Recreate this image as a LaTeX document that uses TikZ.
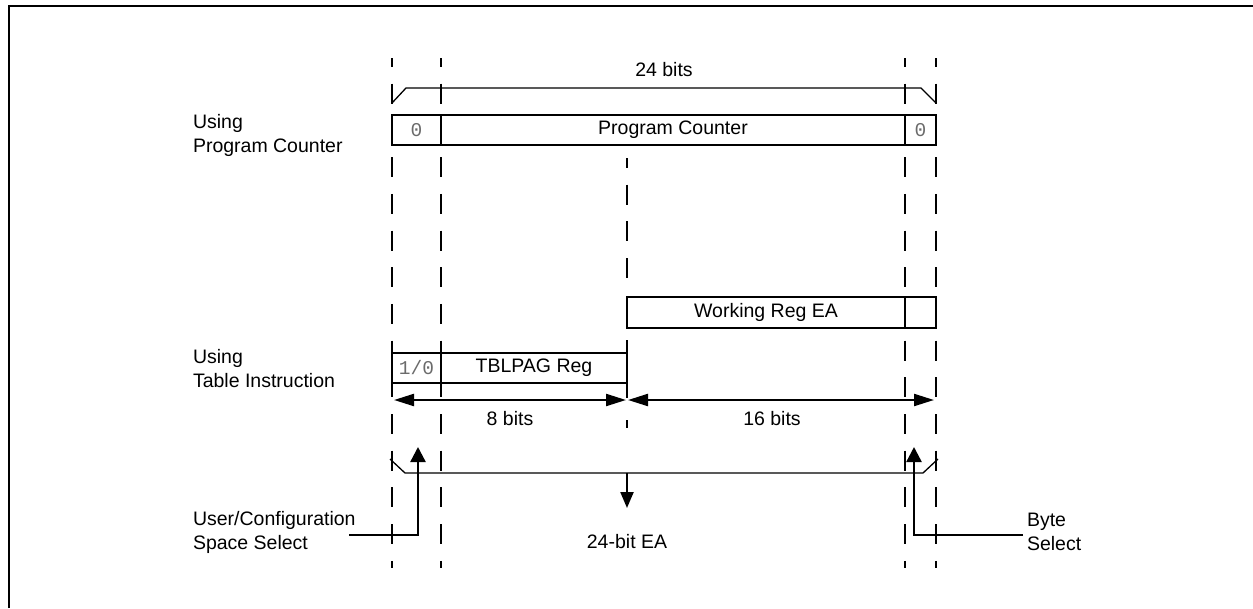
\documentclass[tikz,border=0pt]{standalone}
\usepackage{fontspec}
\setmainfont{Liberation Sans}
\newfontfamily\monof{Liberation Mono}
\usetikzlibrary{arrows.meta}
\definecolor{zerogray}{gray}{0.42}
\begin{document}
\begin{tikzpicture}[x=1pt,y=-1pt,
  lbl/.style={font=\fontsize{19.5}{23.5}\selectfont, inner sep=0pt, outer sep=0pt},
  side/.style={lbl, align=left, anchor=north west},
  regbox/.style={draw, line width=2.4pt, minimum height=30pt, inner sep=0pt, outer sep=0pt, anchor=north west, font=\fontsize{19.5}{23.5}\selectfont},
  bitz/.style={font=\monof\fontsize{18}{20}\selectfont, text=zerogray},
  guide/.style={line width=2.2pt, dash pattern=on 20pt off 16.7pt},
  bracket/.style={line width=1.3pt},
  dimarrow/.style={line width=2.2pt, {Triangle[length=20pt,width=12pt]}-{Triangle[length=20pt,width=12pt]}},
  selarrow/.style={line width=2.4pt, -{Triangle[length=15pt,width=15pt]}},
  downarrow/.style={line width=2.2pt, -{Triangle[length=16pt,width=13pt]}},
  framel/.style={line width=2.6pt}
]
\useasboundingbox (0,0) rectangle (1253,608);

% frame (left and top edges)
\coordinate (fr1) at (9,608);
\coordinate (fr2) at (9,6);
\coordinate (fr3) at (1253,6);
\draw[framel] (fr1) -- (fr2) -- (fr3);

% dashed guide lines
\foreach \n/\x in {ga/392, gb/441, gc/905, gd/936}{
  \coordinate (\n1) at (\x,58);
  \coordinate (\n2) at (\x,568);
  \draw[guide, dash phase=11pt] (\n1) -- (\n2);
}
\coordinate (gm1) at (627,158);
\coordinate (gm2) at (627,287);
\draw[guide, dash phase=10pt] (gm1) -- (gm2);
\coordinate (gm3) at (627,340);
\coordinate (gm4) at (627,398);
\draw[line width=2.2pt] (gm3) -- (gm4);
\coordinate (gm5) at (627,420);
\coordinate (gm6) at (627,428);
\draw[line width=2.2pt] (gm5) -- (gm6);

% top bracket
\coordinate (tb1) at (392,103);
\coordinate (tb2) at (406,88);
\coordinate (tb3) at (921,88);
\coordinate (tb4) at (936,103);
\draw[bracket] (tb1) -- (tb2) -- (tb3) -- (tb4);
\node[lbl, anchor=base] (bits24) at (664,76) {24 bits};

% Program counter row
\node[regbox, minimum width=49pt] (pcz) at (392,115) {\monof\color{zerogray}0};
\node[regbox, minimum width=464pt] (pc) at (441,115) {Program Counter};
\node[regbox, minimum width=31pt] (pco) at (905,115) {\monof\color{zerogray}0};

% Working register row
\node[regbox, minimum width=278pt, minimum height=31pt] (wr) at (627,297) {Working Reg EA};
\node[regbox, minimum width=31pt, minimum height=31pt] (wro) at (905,297) {};

% TBLPAG row
\node[regbox, minimum width=49pt] (tz) at (392,353) {\monof\color{zerogray}1/0};
\node[regbox, minimum width=186pt] (tb) at (441,353) {TBLPAG Reg};

% side labels
\node[side] (usepc) at (193,114.5) {Using\\Program Counter};
\node[side] (usetbl) at (193,349.5) {Using\\Table Instruction};

% dimension arrows
\coordinate (d1) at (394,400);
\coordinate (d2) at (626,400);
\coordinate (d3) at (628,400);
\coordinate (d4) at (934,400);
\draw[dimarrow] (d1) -- (d2);
\draw[dimarrow] (d3) -- (d4);
\node[lbl, anchor=base] (bits8) at (510,425) {8 bits};
\node[lbl, anchor=base] (bits16) at (772,425) {16 bits};

% bottom bracket
\coordinate (bb1) at (390,459);
\coordinate (bb2) at (405,473);
\coordinate (bb3) at (923,473);
\coordinate (bb4) at (938,459);
\draw[bracket] (bb1) -- (bb2) -- (bb3) -- (bb4);
\coordinate (eatop) at (627,473);
\coordinate (eatip) at (627,508);
\draw[downarrow] (eatop) -- (eatip);
\node[lbl, anchor=base] (ea) at (627,548) {24-bit EA};

% select arrows
\node[side] (ucs) at (193,511.5) {User/Configuration\\Space Select};
\coordinate (uca) at (349,535);
\coordinate (ucb) at (418,447);
\draw[selarrow] (uca) -| (ucb);
\node[side] (bsel) at (1027,513.5) {Byte\\Select};
\coordinate (bsa) at (1023,535);
\coordinate (bsb) at (914,447);
\draw[selarrow] (bsa) -| (bsb);
\end{tikzpicture}
\end{document}
